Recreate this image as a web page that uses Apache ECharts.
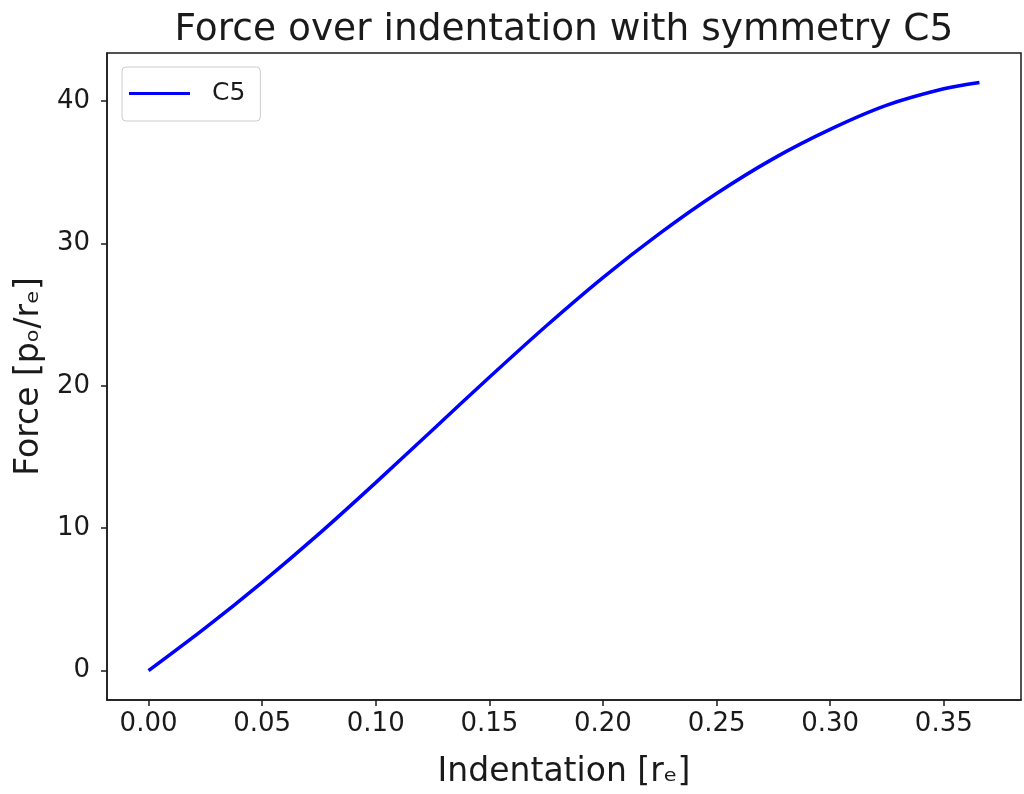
<!DOCTYPE html>
<html>
<head>
<meta charset="utf-8">
<title>Force over indentation with symmetry C5</title>
<script src="https://cdn.jsdelivr.net/npm/echarts@6/dist/echarts.min.js"></script>
<style>
  html, body { margin: 0; padding: 0; background: #ffffff; }
  #chart { width: 1024px; height: 794px; }
</style>
</head>
<body>
<div id="chart"></div>
<script>
// Indentation depth [r_e] and the resulting force [p_o/r_e] for the C5 symmetry case
const indentation = [0, 0.025, 0.05, 0.075, 0.1, 0.125, 0.15, 0.175, 0.2, 0.225, 0.25, 0.275, 0.3, 0.325, 0.35, 0.3657];
const forceC5 = [0, 3.0, 6.2, 9.6, 13.2, 16.9, 20.6, 24.2, 27.6, 30.7, 33.5, 35.95, 38.0, 39.7, 40.85, 41.3];

const xTicks = [0, 0.05, 0.10, 0.15, 0.20, 0.25, 0.30, 0.35];
const yTicks = [0, 10, 20, 30, 40];

const seriesName = 'C5';
const titleText = 'Force over indentation with symmetry C5';
const xLabel = 'Indentation [r\u2091]';
const yLabel = 'Force [p\u2092/r\u2091]';

const FONT = '"DejaVu Sans", sans-serif';
const INK = '#1a1a1a';

// 5% padding around the data extent on both axes
const xMaxData = Math.max(...indentation);
const yMaxData = Math.max(...forceC5);
const xPad = xMaxData * 0.05;
const yPad = yMaxData * 0.05;

const points = indentation.map((x, i) => [x, forceC5[i]]);

const chart = echarts.init(document.getElementById('chart'), null, { renderer: 'canvas' });

chart.setOption({
  animation: false,
  backgroundColor: '#ffffff',
  title: {
    text: titleText,
    left: 559,
    textAlign: 'center',
    top: 6,
    textStyle: { fontFamily: FONT, fontSize: 37.5, fontWeight: 'normal', color: INK }
  },
  legend: {
    data: [seriesName],
    left: 122,
    top: 67,
    orient: 'vertical',
    padding: [14, 15, 15, 7],
    backgroundColor: 'rgba(255,255,255,0.8)',
    borderColor: '#cccccc',
    borderWidth: 1,
    borderRadius: 4,
    icon: 'rect',
    itemWidth: 61,
    itemHeight: 3,
    textStyle: { fontFamily: FONT, fontSize: 25, color: INK, padding: [0, 0, 0, 17] }
  },
  grid: {
    left: 107,
    right: 3,
    top: 53,
    bottom: 93,
    show: true,
    borderColor: '#1a1a1a',
    borderWidth: 1.5,
    containLabel: false
  },
  xAxis: {
    type: 'value',
    min: -xPad,
    max: xMaxData + xPad,
    name: xLabel,
    nameLocation: 'middle',
    nameGap: 56,
    nameTextStyle: { fontFamily: FONT, fontSize: 33, color: INK },
    axisLine: { show: true, onZero: false, lineStyle: { color: '#1a1a1a', width: 1.5 } },
    axisTick: { show: true, inside: false, length: 6, customValues: xTicks, lineStyle: { color: '#1a1a1a', width: 1.5 } },
    axisLabel: {
      show: true,
      customValues: xTicks,
      margin: 11,
      fontFamily: FONT,
      fontSize: 26,
      color: INK,
      formatter: v => v.toFixed(2)
    },
    splitLine: { show: false }
  },
  yAxis: {
    type: 'value',
    min: -yPad,
    max: yMaxData + yPad,
    name: yLabel,
    nameLocation: 'middle',
    nameGap: 61,
    nameTextStyle: { fontFamily: FONT, fontSize: 33, color: INK },
    axisLine: { show: true, onZero: false, lineStyle: { color: '#1a1a1a', width: 1.5 } },
    axisTick: { show: true, inside: false, length: 6, customValues: yTicks, lineStyle: { color: '#1a1a1a', width: 1.5 } },
    axisLabel: {
      show: true,
      customValues: yTicks,
      margin: 17,
      fontFamily: FONT,
      fontSize: 26,
      color: INK,
      formatter: v => String(Math.round(v))
    },
    splitLine: { show: false }
  },
  series: [{
    name: seriesName,
    type: 'line',
    data: points,
    smooth: 0.3,
    showSymbol: false,
    symbol: 'none',
    lineStyle: { color: '#0000ff', width: 3.5 },
    itemStyle: { color: '#0000ff' }
  }]
});
</script>
</body>
</html>
